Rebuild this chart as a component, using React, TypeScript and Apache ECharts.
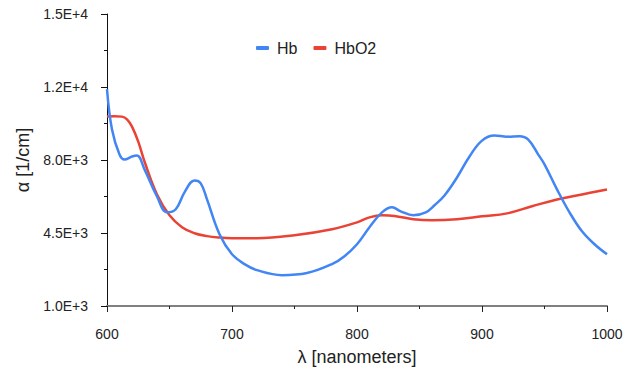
import React, { useEffect, useRef } from "react";
import * as echarts from "echarts";

const hbWavelengths = [600, 604, 610, 614, 620, 624, 630, 640, 648, 655, 662, 670, 675, 680, 690, 700, 710, 720, 740, 760, 780, 790, 800, 810, 820, 828, 835, 845, 855, 862, 870, 880, 890, 900, 910, 920, 930, 937, 945, 950, 960, 970, 980, 990, 1000];
const hbValues = [11400, 9460, 8260, 8020, 8170, 8220, 7550, 6250, 5490, 5640, 6450, 7020, 6880, 6110, 4440, 3480, 3010, 2720, 2480, 2580, 3010, 3390, 3960, 4780, 5490, 5730, 5540, 5350, 5490, 5830, 6300, 7160, 8170, 8930, 9170, 9120, 9140, 8980, 8260, 7790, 6590, 5490, 4580, 3960, 3480];

const hbo2Wavelengths = [600, 606, 612, 616, 620, 625, 630, 640, 650, 660, 670, 680, 690, 700, 720, 750, 780, 800, 810, 820, 830, 845, 860, 880, 900, 920, 940, 960, 980, 1000];
const hbo2Values = [10080, 10100, 10080, 9950, 9600, 8880, 7930, 6350, 5350, 4780, 4490, 4350, 4280, 4250, 4250, 4390, 4680, 5010, 5250, 5350, 5320, 5160, 5110, 5160, 5300, 5440, 5780, 6110, 6350, 6590];

const xTickValues = [600, 700, 800, 900, 1000];
const xTickLabels = ["600", "700", "800", "900", "1000"];
const yTickValues = [1000, 4500, 8000, 11500, 15000];
const yTickLabels = ["1.0E+3", "4.5E+3", "8.0E+3", "1.2E+4", "1.5E+4"];
const yMinorTickValues = [2750, 6250, 9750, 13250];

const seriesNames = ["Hb", "HbO2"];
const seriesColors = ["#4285F4", "#EA4335"];

const FONT = "Liberation Sans, Arial, sans-serif";

export default function App() {
  const ref = useRef<HTMLDivElement>(null);
  useEffect(() => {
    if (!ref.current) return;
    const chart = echarts.init(ref.current, undefined, { renderer: "svg" });
    const hbData = hbWavelengths.map((x, i) => [x, hbValues[i]]);
    const hbo2Data = hbo2Wavelengths.map((x, i) => [x, hbo2Values[i]]);
    chart.setOption({
      animation: false,
      backgroundColor: "#ffffff",
      textStyle: { fontFamily: FONT },
      grid: { left: 107, right: 27, top: 14, bottom: 64, containLabel: false },
      legend: {
        data: seriesNames,
        left: 251,
        top: 35,
        icon: "roundRect",
        itemWidth: 13,
        itemHeight: 4,
        itemGap: 16,
        textStyle: { fontSize: 16, color: "#222", fontFamily: FONT, padding: [0, 0, 0, 3] },
      },
      xAxis: {
        type: "value",
        min: 600,
        max: 1000,
        interval: 100,
        name: "λ [nanometers]",
        nameLocation: "middle",
        nameGap: 42,
        nameTextStyle: { fontSize: 18, color: "#222", fontFamily: FONT },
        axisLine: { show: true, lineStyle: { color: "#808080", width: 2 } },
        axisTick: { show: true, length: 6, lineStyle: { color: "#222" } },
        minorTick: { show: true, splitNumber: 2, length: 3, lineStyle: { color: "#222" } },
        axisLabel: {
          fontSize: 14,
          color: "#222",
          margin: 21,
          fontFamily: FONT,
          formatter: (v: number) => {
            const i = xTickValues.indexOf(v);
            return i >= 0 ? xTickLabels[i] : "";
          },
        },
        splitLine: { show: false },
        minorSplitLine: { show: false },
      },
      yAxis: [
        {
          type: "value",
          min: 1000,
          max: 15000,
          position: "left",
          name: "α [1/cm]",
          nameLocation: "middle",
          nameGap: 75,
          nameTextStyle: { fontSize: 18, color: "#222", fontFamily: FONT },
          axisLine: { show: true, lineStyle: { color: "#111", width: 1 } },
          axisTick: { show: true, length: 6, customValues: yTickValues, lineStyle: { color: "#111" } },
          axisLabel: {
            fontSize: 14,
            color: "#222",
            margin: 19,
            fontFamily: FONT,
            customValues: yTickValues,
            formatter: (v: number) => {
              const i = yTickValues.indexOf(v);
              return i >= 0 ? yTickLabels[i] : "";
            },
          },
          splitLine: { show: false },
        },
        {
          type: "value",
          min: 1000,
          max: 15000,
          position: "left",
          axisLine: { show: false },
          axisTick: { show: true, length: 3, customValues: yMinorTickValues, lineStyle: { color: "#111" } },
          axisLabel: { show: false },
          splitLine: { show: false },
        },
      ],
      series: [
        {
          name: seriesNames[0],
          type: "line",
          data: hbData,
          smooth: 0.4,
          showSymbol: false,
          symbol: "none",
          color: seriesColors[0],
          lineStyle: { color: seriesColors[0], width: 2.5 },
          z: 3,
        },
        {
          name: seriesNames[1],
          type: "line",
          data: hbo2Data,
          smooth: 0.4,
          showSymbol: false,
          symbol: "none",
          color: seriesColors[1],
          lineStyle: { color: seriesColors[1], width: 2.5 },
          z: 2,
        },
      ],
    });
    return () => chart.dispose();
  }, []);
  return <div ref={ref} style={{ position: "fixed", left: 0, top: 0, width: 634, height: 371 }} />;
}
